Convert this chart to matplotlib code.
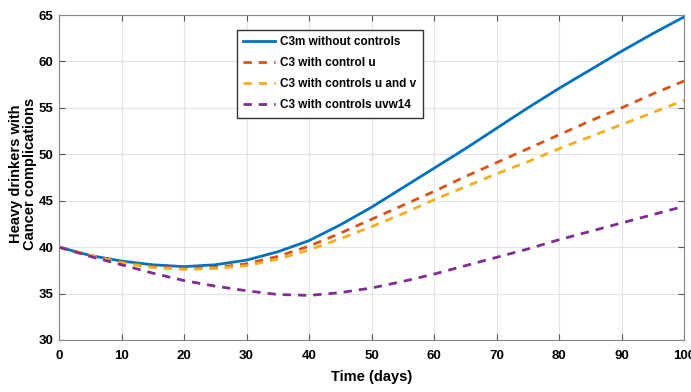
import numpy as np
import matplotlib.pyplot as plt

plt.rcParams['font.family'] = ['Liberation Sans', 'DejaVu Sans']

# time grid (days) and curves
days = [0, 5, 10, 15, 20, 25, 30, 35, 40, 45, 50,
        55, 60, 65, 70, 75, 80, 85, 90, 95, 100]
c3m_no_ctrl = [40.0, 39.1, 38.5, 38.1, 37.9, 38.1, 38.6, 39.5, 40.7, 42.4, 44.3,
               46.4, 48.5, 50.6, 52.8, 55.0, 57.1, 59.1, 61.1, 63.0, 64.8]
c3_ctrl_u = [40.0, 39.1, 38.4, 37.9, 37.7, 37.8, 38.2, 39.0, 40.1, 41.5, 43.0,
             44.5, 46.0, 47.6, 49.1, 50.6, 52.1, 53.6, 55.0, 56.5, 57.9]
c3_ctrl_uv = [40.0, 39.1, 38.3, 37.8, 37.6, 37.7, 38.0, 38.7, 39.7, 40.9, 42.2,
              43.6, 45.1, 46.5, 47.9, 49.2, 50.6, 51.9, 53.2, 54.5, 55.8]
c3_ctrl_uvw14 = [40.0, 39.0, 38.1, 37.2, 36.4, 35.8, 35.3, 34.9, 34.8, 35.1, 35.6,
                 36.3, 37.1, 38.0, 38.9, 39.8, 40.8, 41.7, 42.6, 43.5, 44.4]

labels = ['C3m without controls', 'C3 with control u',
          'C3 with controls u and v', 'C3 with controls uvw14']

fig = plt.figure(figsize=(6.91, 3.92), dpi=100)
ax = fig.add_axes([0.0854, 0.1327, 0.9046, 0.829])

ax.plot(days, c3m_no_ctrl, color='#0072BD', lw=2.0, label=labels[0])
ax.plot(days, c3_ctrl_u, color='#D95319', lw=2.0, ls=(0, (3, 2.5)), label=labels[1])
ax.plot(days, c3_ctrl_uv, color='#EDB120', lw=2.0, ls=(0, (3, 2.5)), label=labels[2])
ax.plot(days, c3_ctrl_uvw14, color='#7E2F8E', lw=2.0, ls=(0, (3, 2.5)), label=labels[3])

ax.set_xlim(0, 100)
ax.set_ylim(30, 65)
ax.set_xticks(np.arange(0, 101, 10))
ax.set_yticks(np.arange(30, 66, 5))
ax.grid(True, color='#e3e3e3', lw=0.8)
ax.tick_params(direction='in', top=True, right=True, length=4, color='#555555',
               labelsize=9.5)
ax.tick_params(axis='x', pad=7)
ax.tick_params(axis='y', pad=4)
for lab in ax.get_xticklabels() + ax.get_yticklabels():
    lab.set_fontweight('bold')
for sp in ax.spines.values():
    sp.set_color('#888888')

ax.set_xlabel('Time (days)', fontsize=10.5, fontweight='bold', labelpad=6)
ax.set_ylabel('Heavy drinkers with\nCancer complications', fontsize=10.5,
              fontweight='bold', linespacing=1.0)
ax.yaxis.set_label_coords(-0.036, 0.51)

leg = ax.legend(loc='upper left', bbox_to_anchor=(237 / 691, 1 - 30 / 392),
                bbox_transform=fig.transFigure, fancybox=False, framealpha=1,
                edgecolor='#333333', prop={'weight': 'bold', 'size': 8.5},
                handlelength=2.7, handletextpad=0.4, borderpad=0.55,
                labelspacing=0.75, borderaxespad=0)
leg.get_frame().set_linewidth(1.0)

fig.savefig('out.png', dpi=100)
